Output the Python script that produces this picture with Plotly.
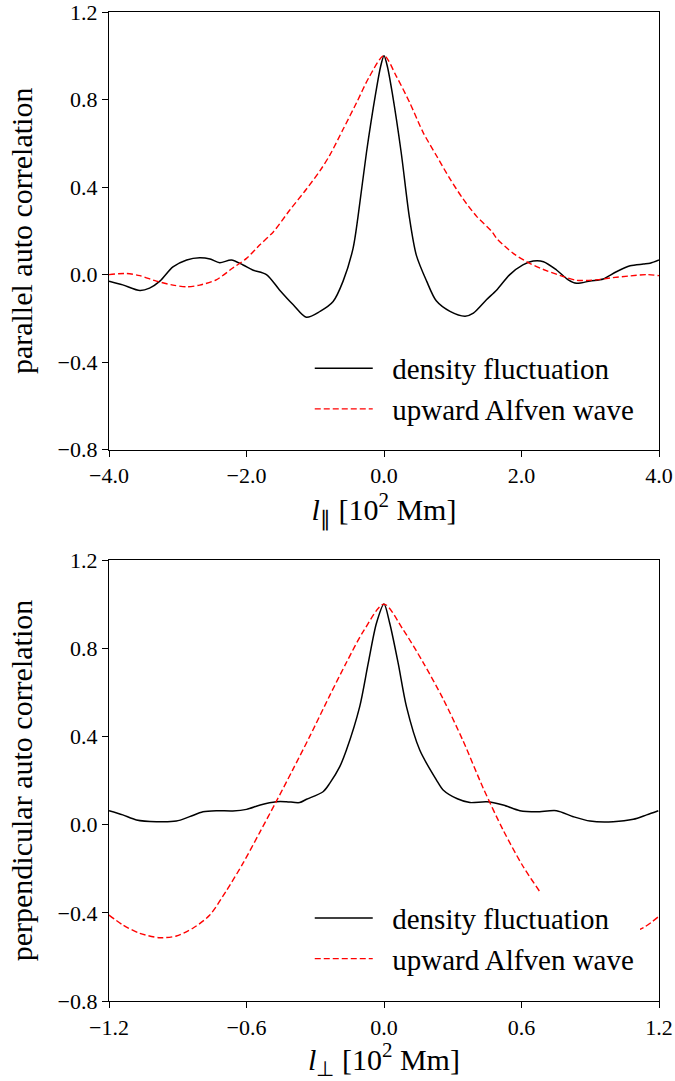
import plotly.graph_objects as go

# ---------------- data ----------------
# top panel: parallel auto correlation
par_x_density = [-4.0, -3.80, -3.55, -3.41, -3.26, -3.07, -2.87, -2.68, -2.53, -2.39, -2.22, -2.05,
                 -1.91, -1.71, -1.52, -1.32, -1.13, -0.93, -0.74, -0.595, -0.45, -0.38,
                 -0.255, -0.12, -0.05, 0.0, 0.05, 0.12, 0.25, 0.37, 0.47, 0.62, 0.76, 0.96,
                 1.18, 1.30, 1.49, 1.64, 1.83, 2.02, 2.17, 2.32, 2.51, 2.68, 2.80, 3.00, 3.19,
                 3.38, 3.58, 3.77, 3.87, 4.0]
par_y_density = [-0.030, -0.047, -0.073, -0.062, -0.030, 0.035, 0.067, 0.077, 0.071, 0.054, 0.067, 0.044,
                 0.021, 0.000, -0.070, -0.138, -0.195, -0.168, -0.123, -0.030, 0.120, 0.260,
                 0.558, 0.830, 0.950, 1.000, 0.950, 0.830, 0.558, 0.260, 0.089, -0.030, -0.120, -0.168,
                 -0.190, -0.176, -0.115, -0.070, 0.000, 0.044, 0.062, 0.059, 0.021, -0.024, -0.040, -0.029, -0.020,
                 0.013, 0.040, 0.048, 0.052, 0.067]

par_x_alfven = [-4.0, -3.75, -3.55, -3.31, -3.07, -2.87, -2.68, -2.44, -2.20, -2.0, -1.81, -1.61,
                -1.37, -1.13, -0.93, -0.79, -0.595, -0.40, -0.21, 0.0, 0.18, 0.375, 0.57, 0.764,
                0.96, 1.15, 1.35, 1.565, 1.64, 1.88, 2.12, 2.37, 2.61, 2.80, 3.09, 3.33, 3.58, 3.82, 4.0]
par_y_alfven = [0.000, 0.005, -0.005, -0.030, -0.048, -0.056, -0.048, -0.024, 0.030, 0.074, 0.135, 0.195,
                0.295, 0.390, 0.475, 0.545, 0.664, 0.785, 0.906, 1.000, 0.906, 0.785, 0.649, 0.543,
                0.437, 0.346, 0.265, 0.198, 0.165, 0.097, 0.051, 0.017, -0.009, -0.026, -0.024, -0.014, -0.006, 0.000, -0.005]

# bottom panel: perpendicular auto correlation
perp_x_density = [-1.2, -1.14, -1.08, -0.993, -0.906, -0.848, -0.79, -0.73, -0.66, -0.60, -0.54, -0.47,
                  -0.426, -0.368, -0.338, -0.266, -0.237, -0.193, -0.164, -0.106, -0.069, -0.033, 0.0,
                  0.025, 0.062, 0.098, 0.156, 0.229, 0.258, 0.32, 0.375, 0.448, 0.52, 0.593, 0.666,
                  0.753, 0.826, 0.899, 1.0, 1.088, 1.146, 1.197]
perp_y_density = [0.063, 0.044, 0.021, 0.013, 0.016, 0.036, 0.058, 0.063, 0.062, 0.069, 0.089, 0.104,
                  0.104, 0.100, 0.115, 0.149, 0.187, 0.263, 0.338, 0.535, 0.731, 0.913, 1.000,
                  0.913, 0.731, 0.535, 0.338, 0.202, 0.157, 0.117, 0.100, 0.104, 0.089, 0.063, 0.058,
                  0.063, 0.036, 0.016, 0.013, 0.024, 0.044, 0.063]

perp_x_alfven = [-1.2, -1.14, -1.066, -0.979, -0.906, -0.834, -0.76, -0.688, -0.615, -0.542, -0.47, -0.40,
                 -0.324, -0.237, -0.164, -0.091, 0.0, 0.083, 0.171, 0.258, 0.345, 0.433, 0.52, 0.607,
                 0.69, 0.76, 0.834, 0.906, 0.979, 1.066, 1.139, 1.197]
perp_y_alfven = [-0.410, -0.455, -0.493, -0.513, -0.505, -0.470, -0.410, -0.300, -0.175, -0.035, 0.105, 0.245,
                 0.400, 0.585, 0.735, 0.875, 1.000, 0.885, 0.735, 0.570, 0.380, 0.165, -0.025, -0.190,
                 -0.320, -0.430, -0.480, -0.510, -0.515, -0.495, -0.463, -0.418]

series_names = ["density fluctuation", "upward Alfven wave"]

top_xticks = [-4.0, -2.0, 0.0, 2.0, 4.0]
bot_xticks = [-1.2, -0.6, 0.0, 0.6, 1.2]
yticks = [-0.8, -0.4, 0.0, 0.4, 0.8, 1.2]

# ---------------- figure ----------------
FONT = "Liberation Serif"
black_line = dict(color="black", width=1.5, shape="spline", smoothing=0.8)
red_line = dict(color="red", width=1.4, dash="6px,3px", shape="spline", smoothing=0.8)
PAD = "\u00a0\u00a0"  # gap between legend sample line and label

fig = go.Figure()
fig.add_trace(go.Scatter(x=par_x_density, y=par_y_density, mode="lines", name=PAD + series_names[0],
                         line=black_line, xaxis="x", yaxis="y", legend="legend"))
fig.add_trace(go.Scatter(x=par_x_alfven, y=par_y_alfven, mode="lines", name=PAD + series_names[1],
                         line=red_line, xaxis="x", yaxis="y", legend="legend"))
fig.add_trace(go.Scatter(x=perp_x_density, y=perp_y_density, mode="lines", name=PAD + series_names[0],
                         line=black_line, xaxis="x2", yaxis="y2", legend="legend2"))
fig.add_trace(go.Scatter(x=perp_x_alfven, y=perp_y_alfven, mode="lines", name=PAD + series_names[1],
                         line=red_line, xaxis="x2", yaxis="y2", legend="legend2"))

axis_common = dict(showline=True, linecolor="black", linewidth=1.2, mirror=True,
                   ticks="outside", ticklen=6, tickwidth=1.2, tickcolor="black",
                   showgrid=False, zeroline=False, automargin=False, ticklabeloverflow="allow",
                   tickfont=dict(family=FONT, size=22, color="black"))

title_font = dict(family=FONT, size=30, color="black")
legend_font = dict(family=FONT, size=29, color="black")

fig.update_layout(
    width=675, height=1081,
    margin=dict(l=109, r=16, t=12, b=80),
    paper_bgcolor="white", plot_bgcolor="white",
    font=dict(family=FONT, color="black"),
    xaxis=dict(domain=[0, 1], anchor="y", range=[-4, 4], tickvals=top_xticks, tickformat=".1f",
               title=dict(text="<i>l</i><sub>∥</sub> [10<sup>2</sup> Mm]", font=title_font, standoff=0),
               **axis_common),
    yaxis=dict(domain=[0.5575, 1], anchor="x", range=[-0.8, 1.2], tickvals=yticks, tickformat=".1f",
               title=dict(text="parallel auto correlation", font=title_font, standoff=16),
               **axis_common),
    xaxis2=dict(domain=[0, 1], anchor="y2", range=[-1.2, 1.2], tickvals=bot_xticks, tickformat=".1f",
                title=dict(text="<i>l</i><sub>⊥</sub> [10<sup>2</sup> Mm]", font=title_font, standoff=0),
                **axis_common),
    yaxis2=dict(domain=[0, 0.4459], anchor="x2", range=[-0.8, 1.2], tickvals=yticks, tickformat=".1f",
                title=dict(text="perpendicular auto correlation", font=title_font, standoff=16),
                **axis_common),
    legend=dict(x=0.965, y=0.5725, xanchor="right", yanchor="bottom", bgcolor="white",
                borderwidth=0, font=legend_font, itemwidth=58, tracegroupgap=0),
    legend2=dict(x=0.965, y=0.0166, xanchor="right", yanchor="bottom", bgcolor="white",
                 borderwidth=0, font=legend_font, itemwidth=58, tracegroupgap=0),
)

fig.write_html("out.html")
